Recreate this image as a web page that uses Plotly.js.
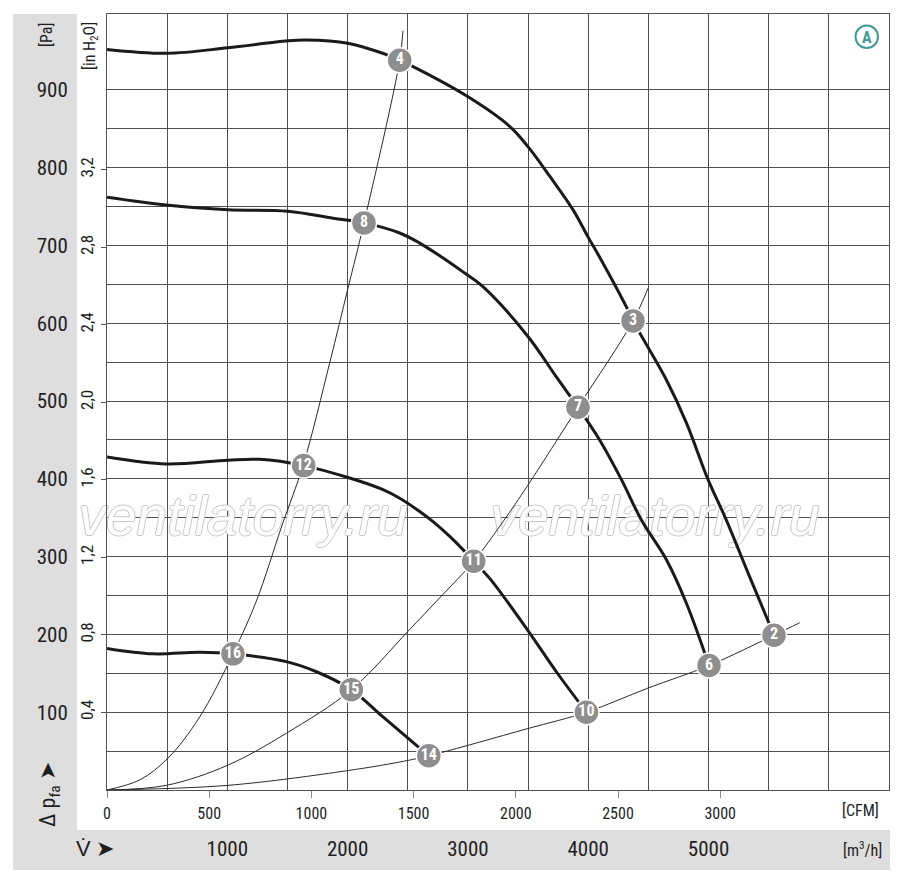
<!DOCTYPE html>
<html>
<head>
<meta charset="utf-8">
<script src="https://cdn.plot.ly/plotly-3.0.1.min.js"></script>
<style>
  html, body { margin: 0; padding: 0; background: #ffffff; }
  #chart { width: 900px; height: 880px; }
</style>
</head>
<body>
<div id="chart"></div>
<script>
// ---------- data (flow in m³/h, pressure in Pa) ----------
const curveA_flow = [0, 496, 1003, 1502, 1650, 2001, 2292, 2433, 2516, 3001, 3347, 3499, 3680, 3873, 3998, 4109, 4317, 4372, 4650, 4816, 4996, 5148, 5342, 5544];
const curveA_pa   = [952, 947, 954, 963, 964, 960, 947, 938, 932, 891, 853, 827, 789, 746, 711, 681, 621, 603, 527, 472, 399, 347, 274, 199];

const curveB_flow = [0, 494, 1006, 1505, 1879, 2136, 2433, 2599, 2821, 2959, 3125, 3499, 3735, 3915, 4095, 4276, 4442, 4650, 4816, 5004];
const curveB_pa   = [762, 752, 746, 744, 735, 729, 716, 703, 681, 666, 647, 583, 531, 492, 450, 399, 347, 296, 240, 160];

const curveC_flow = [0, 494, 1006, 1269, 1635, 2017, 2294, 2433, 2599, 2710, 2849, 2959, 3048, 3181, 3499, 3735, 3985];
const curveC_pa   = [428, 419, 424, 425, 417, 401, 386, 375, 358, 345, 326, 309, 294, 272, 205, 152, 100];

const curveD_flow = [0, 382, 771, 1047, 1491, 1741, 2031, 2294, 2675];
const curveD_pa   = [182, 175, 177, 175, 165, 152, 129, 94, 44];

// system (resistance) curves
const sys1_flow = [0, 272, 507, 771, 1047, 1242, 1450, 1635, 1851, 2003, 2136, 2433, 2460];
const sys1_pa   = [0, 13, 41, 94, 175, 243, 338, 420, 549, 645, 729, 938, 976];

const sys2_flow = [0, 494, 1006, 1491, 2031, 2502, 2765, 3048, 3292, 3499, 3915, 4372, 4497];
const sys2_pa   = [0, 6, 32, 73, 129, 204, 247, 294, 345, 392, 492, 603, 645];

const sys3_flow = [0, 1006, 2003, 2433, 2675, 3499, 3985, 4497, 5004, 5544, 5758];
const sys3_pa   = [0, 6, 25, 36, 44, 79, 100, 131, 160, 199, 215];

// operating points
const pointLabels = ['4', '8', '12', '16', '3', '7', '11', '15', '2', '6', '10', '14'];
const pointFlow   = [2433, 2136, 1635, 1047, 4372, 3915, 3048, 2031, 5544, 5004, 3985, 2675];
const pointPa     = [938, 729, 417, 175, 603, 492, 294, 129, 199, 160, 100, 44];

// ticks
const paLabels    = [100, 200, 300, 400, 500, 600, 700, 800, 900];
const inh2oTicks  = [0.4, 0.8, 1.2, 1.6, 2.0, 2.4, 2.8, 3.2];
const inh2oText   = ['0,4', '0,8', '1,2', '1,6', '2,0', '2,4', '2,8', '3,2'];
const cfmTicks    = [0, 500, 1000, 1500, 2000, 2500, 3000];
const m3hLabels   = [1000, 2000, 3000, 4000, 5000];

const watermarkText = 'ventilatorry.ru';

// ---------- scales ----------
const X_MAX = 6500;          // m³/h
const Y_MAX = 997.5;         // Pa
const M3H_PER_CFM = 1.699;
const PA_PER_INH2O = 249.089;
const X_GRID_STEP = 500, Y_GRID_STEP = 50, Y_GRID_MAX = 900;

const xGrid = []; for (let v = 0; v <= X_MAX; v += X_GRID_STEP) xGrid.push(v);
const yGrid = []; for (let v = 0; v <= Y_GRID_MAX; v += Y_GRID_STEP) yGrid.push(v);
const xGridText = xGrid.map(v => m3hLabels.includes(v) ? String(v) : ' ');
const yGridText = yGrid.map(v => paLabels.includes(v) ? String(v) : ' ');

const NARROW = '"Liberation Sans Narrow", "Arial Narrow", "Roboto Condensed", Roboto, "Liberation Sans", sans-serif';
const GRID = '#505050';
const INK = '#1e1e1e';

// plot frame in pixels: x 107..889, y 14..790
const L = 107, R = 11, T = 14, B = 90, W = 900, H = 880;
const PW = W - L - R, PH = H - T - B;
const px = p => (p - L) / PW;
const py = p => (H - B - p) / PH;

const fan = (x, y) => ({x, y, mode: 'lines', type: 'scatter', hoverinfo: 'skip',
  line: {color: '#1a1a1a', width: 3, shape: 'spline', smoothing: 1}});
const sys = (x, y) => ({x, y, mode: 'lines', type: 'scatter', hoverinfo: 'skip',
  line: {color: '#2a2a2a', width: 1, shape: 'spline', smoothing: 1}});

// watermark: drawn above the grid but below all curves
const watermark = {
  x: [px(243) * X_MAX, px(655) * X_MAX], y: [py(521) * Y_MAX, py(521) * Y_MAX],
  text: [watermarkText, watermarkText], mode: 'text', type: 'scatter', hoverinfo: 'skip',
  textposition: 'middle center', cliponaxis: false,
  textfont: {family: '"Liberation Sans", Arial, sans-serif', size: 55, color: '#ffffff', style: 'italic',
    shadow: '1px 0 0 #c8c8c8, -1px 0 0 #c8c8c8, 0 1px 0 #c8c8c8, 0 -1px 0 #c8c8c8'}
};

const traces = [
  watermark,
  sys(sys1_flow, sys1_pa), sys(sys2_flow, sys2_pa), sys(sys3_flow, sys3_pa),
  fan(curveA_flow, curveA_pa), fan(curveB_flow, curveB_pa),
  fan(curveC_flow, curveC_pa), fan(curveD_flow, curveD_pa),
  {x: pointFlow, y: pointPa, text: pointLabels, mode: 'markers+text', type: 'scatter',
   textposition: 'middle center', hoverinfo: 'skip', cliponaxis: false,
   textfont: {family: NARROW, size: 16, color: '#ffffff', weight: 'bold'},
   marker: {size: 25, color: '#8e8e8e', line: {color: '#ffffff', width: 1.5}}},
  {x: [], y: [], xaxis: 'x2', yaxis: 'y', type: 'scatter', mode: 'lines', hoverinfo: 'skip'},
  {x: [], y: [], xaxis: 'x', yaxis: 'y2', type: 'scatter', mode: 'lines', hoverinfo: 'skip'}
];

const note = (text, x, y, font, extra) => Object.assign({
  text, xref: 'paper', yref: 'paper', x: px(x), y: py(y), showarrow: false,
  xanchor: 'center', yanchor: 'middle', font}, extra || {});

const layout = {
  width: W, height: H,
  margin: {l: L, r: R, t: T, b: B, pad: 0},
  paper_bgcolor: '#ffffff', plot_bgcolor: '#ffffff',
  showlegend: false,
  font: {family: NARROW, color: INK},
  xaxis: {
    range: [0, X_MAX], tickmode: 'array', tickvals: xGrid, ticktext: xGridText,
    showgrid: true, gridcolor: GRID, gridwidth: 1, zeroline: false,
    ticks: '', showline: true, mirror: true, linecolor: GRID, linewidth: 1,
    tickfont: {family: NARROW, size: 21, color: INK}, ticklabelstandoff: 40,
    automargin: false, fixedrange: true
  },
  xaxis2: {
    overlaying: 'x', anchor: 'y', side: 'bottom',
    range: [0, X_MAX / M3H_PER_CFM], tickmode: 'array', tickvals: cfmTicks,
    ticks: 'outside', ticklen: 7, tickcolor: '#8a8a8a', tickwidth: 1,
    showgrid: false, zeroline: false, showline: false,
    tickfont: {family: NARROW, size: 16, color: INK}, ticklabelstandoff: 2,
    automargin: false, fixedrange: true
  },
  yaxis: {
    range: [0, Y_MAX], tickmode: 'array', tickvals: yGrid, ticktext: yGridText,
    showgrid: true, gridcolor: GRID, gridwidth: 1, zeroline: false,
    ticks: '', showline: true, mirror: true, linecolor: GRID, linewidth: 1,
    tickfont: {family: NARROW, size: 21, color: INK}, ticklabelstandoff: 34,
    automargin: false, fixedrange: true
  },
  yaxis2: {
    overlaying: 'y', anchor: 'x', side: 'left',
    range: [0, Y_MAX / PA_PER_INH2O], tickmode: 'array', tickvals: inh2oTicks, ticktext: inh2oText,
    ticks: 'outside', ticklen: 5, tickcolor: '#555555', tickwidth: 1, tickangle: -90,
    showgrid: false, zeroline: false, showline: false,
    tickfont: {family: NARROW, size: 17, color: INK}, ticklabelstandoff: 1,
    automargin: false, fixedrange: true
  },
  shapes: [
    {type: 'rect', xref: 'paper', yref: 'paper', x0: px(13), x1: px(77), y0: py(830), y1: py(14),
     fillcolor: '#dedede', line: {width: 0}, layer: 'below'},
    {type: 'rect', xref: 'paper', yref: 'paper', x0: px(13), x1: px(890), y0: py(870), y1: py(830),
     fillcolor: '#dedede', line: {width: 0}, layer: 'below'},
    {type: 'circle', xref: 'paper', yref: 'paper', x0: px(855.5), x1: px(878), y0: py(48), y1: py(25.5),
     fillcolor: '#ffffff', line: {color: '#3f9a92', width: 2}}
  ],
  annotations: [
    note('A', 866.8, 37, {family: NARROW, size: 16, color: '#3f9a92', weight: 'bold'}),
    note('[Pa]', 46, 35, {family: NARROW, size: 16, color: INK}, {textangle: -90}),
    note('[in H<sub>2</sub>O]', 91, 46, {family: NARROW, size: 16, color: INK}, {textangle: -90}),
    note('Δ p<sub>fa</sub> ➤', 49, 795, {family: NARROW, size: 22, color: INK}, {textangle: -90}),
    note('V̇ ➤', 95, 848, {family: NARROW, size: 22, color: INK}),
    note('[CFM]', 860, 811, {family: NARROW, size: 16, color: INK}),
    note('[m<sup>3</sup>/h]', 862, 849, {family: NARROW, size: 16, color: INK})
  ]
};

Plotly.newPlot('chart', traces, layout, {staticPlot: true, displayModeBar: false});
</script>
</body>
</html>
